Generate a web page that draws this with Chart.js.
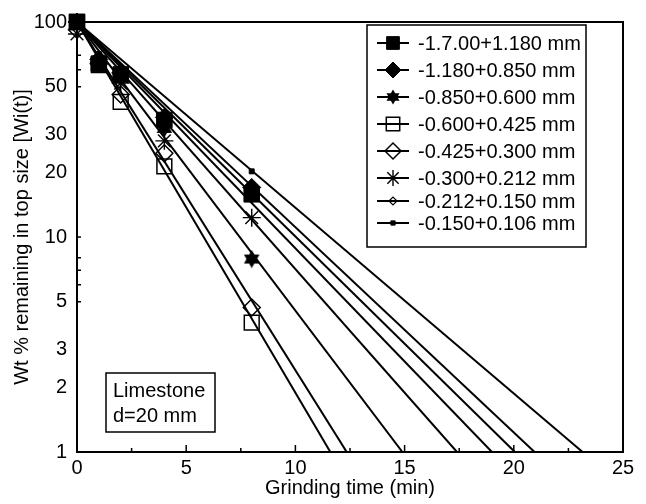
<!DOCTYPE html>
<html>
<head>
<meta charset="utf-8">
<script src="https://cdn.jsdelivr.net/npm/chart.js@4.4.1/dist/chart.umd.min.js"></script>
<style>
  html, body { margin: 0; padding: 0; background: #fff; }
  #wrap { width: 646px; height: 504px; }
</style>
</head>
<body>
<div id="wrap"><canvas id="chart" width="646" height="504"></canvas></div>
<script>
// grinding times (min) where the samples were taken
const times = [0, 1, 2, 4, 8];

const sizeLabels = [
  "-1.7.00+1.180 mm", "-1.180+0.850 mm", "-0.850+0.600 mm", "-0.600+0.425 mm",
  "-0.425+0.300 mm", "-0.300+0.212 mm", "-0.212+0.150 mm", "-0.150+0.106 mm"
];

// Wt % remaining in top size
const wt1700 = [100, 64, 57, 35, 15.8];
const wt1180 = [100, 67, 58, 36, 17.0];
const wt850  = [100, 66, 55, 32, 7.9];
const wt600  = [100, 63, 42.5, 21.3, 4.0];
const wt425  = [92, 64, 46, 24.5, 4.7];
const wt300  = [88, 65, 52, 28, 12.3];
const wt212  = [100, 69, 57, 34, 15.2];
const wt150  = [100, 71, 60, 37, 20.2];

// fitted first-order lines: start at 100 %, reach 1 % at these times
const fitStartValue = 100;
const fitEndValue = 1;
const fitEndTimes = [20.05, 20.95, 14.9, 11.6, 12.35, 17.4, 19.0, 23.15];

const xMajorTicks = [5, 10, 15, 20];
const xMinorTicks = [2.5, 7.5, 12.5, 17.5, 22.5];
const yTickValues = [1, 2, 3, 5, 10, 20, 30, 50, 100];
const yMinorTicks = [5, 6, 7, 8, 10, 50, 60, 70];

const allSeries = [wt1700, wt1180, wt850, wt600, wt425, wt300, wt212, wt150];

const FONT = "'Liberation Sans', Arial, sans-serif";

function makeHexStar(size) {
  const c = document.createElement("canvas");
  c.width = size; c.height = size;
  const g = c.getContext("2d");
  const r = size / 2 - 0.5;
  const cx = size / 2, cy = size / 2;
  g.fillStyle = "#000";
  [-Math.PI / 2, Math.PI / 2].forEach(start => {
    g.beginPath();
    for (let k = 0; k < 3; k++) {
      const a = start + k * 2 * Math.PI / 3;
      const px = cx + r * Math.cos(a), py = cy + r * Math.sin(a);
      if (k === 0) g.moveTo(px, py); else g.lineTo(px, py);
    }
    g.closePath();
    g.fill();
  });
  return c;
}

const hexStarBig = makeHexStar(19);
const hexStarSmall = makeHexStar(16);

const markerStyles = [
  { pointStyle: "rect", radius: 11, fill: "#000", lw: 1 },
  { pointStyle: "rectRot", radius: 9, fill: "#000", lw: 1 },
  { pointStyle: hexStarBig, radius: 9, fill: "#000", lw: 1 },
  { pointStyle: "rect", radius: 10.5, fill: "rgba(0,0,0,0)", lw: 1.5 },
  { pointStyle: "rectRot", radius: 8.5, fill: "rgba(0,0,0,0)", lw: 1.5 },
  { pointStyle: "star", radius: 9, fill: "rgba(0,0,0,0)", lw: 1.4 },
  { pointStyle: "rectRot", radius: 4.5, fill: "rgba(0,0,0,0)", lw: 1.2 },
  { pointStyle: "rect", radius: 3.5, fill: "#000", lw: 1 }
];

const legendMarkerStyles = [
  { pointStyle: "rect", radius: 9, fill: "#000", lw: 1 },
  { pointStyle: "rectRot", radius: 8, fill: "#000", lw: 1 },
  { pointStyle: hexStarSmall, radius: 8, fill: "#000", lw: 1 },
  { pointStyle: "rect", radius: 9.5, fill: "rgba(0,0,0,0)", lw: 1.5 },
  { pointStyle: "rectRot", radius: 8, fill: "rgba(0,0,0,0)", lw: 1.5 },
  { pointStyle: "star", radius: 8, fill: "rgba(0,0,0,0)", lw: 1.4 },
  { pointStyle: "rectRot", radius: 4, fill: "rgba(0,0,0,0)", lw: 1.2 },
  { pointStyle: "rect", radius: 3, fill: "#000", lw: 1 }
];

const markerSets = allSeries.map((vals, i) => ({
  label: sizeLabels[i],
  data: times.map((t, j) => ({ x: t, y: vals[j] })),
  pointStyle: markerStyles[i].pointStyle,
  pointRadius: markerStyles[i].radius,
  pointBackgroundColor: markerStyles[i].fill,
  pointBorderColor: "#000",
  pointBorderWidth: markerStyles[i].lw,
  showLine: false,
  clip: false
}));

const lineSets = fitEndTimes.map((tEnd, i) => ({
  label: sizeLabels[i] + " fit",
  data: [{ x: 0, y: fitStartValue }, { x: tEnd, y: fitEndValue }],
  showLine: true,
  borderColor: "#000",
  borderWidth: 2,
  pointRadius: 0
}));

function drawMarker(ctx, st, x, y) {
  ctx.save();
  ctx.fillStyle = st.fill;
  ctx.strokeStyle = "#000";
  ctx.lineWidth = st.lw;
  Chart.helpers.drawPoint(ctx, { pointStyle: st.pointStyle, radius: st.radius, borderWidth: st.lw, rotation: 0 }, x, y);
  ctx.restore();
}

const framePlugin = {
  id: "frame",
  beforeDatasetsDraw(chart) {
    const { ctx, chartArea: a, scales: { x, y } } = chart;
    ctx.save();
    ctx.strokeStyle = "#000";
    ctx.lineWidth = 2;
    ctx.beginPath();
    ctx.moveTo(a.left, a.top); ctx.lineTo(a.right, a.top); ctx.lineTo(a.right, a.bottom);
    ctx.stroke();
    ctx.lineWidth = 1.5;
    ctx.beginPath();
    xMajorTicks.forEach(v => { const px = x.getPixelForValue(v); ctx.moveTo(px, a.bottom); ctx.lineTo(px, a.bottom - 7); });
    xMinorTicks.forEach(v => { const px = x.getPixelForValue(v); ctx.moveTo(px, a.bottom); ctx.lineTo(px, a.bottom - 4); });
    yMinorTicks.forEach(v => { const py = y.getPixelForValue(v); ctx.moveTo(a.left, py); ctx.lineTo(a.left + 4, py); });
    ctx.stroke();
    ctx.restore();
  },
  afterDraw(chart) {
    const { ctx } = chart;
    ctx.save();
    // legend box
    ctx.fillStyle = "#fff";
    ctx.fillRect(367, 25, 219, 222);
    ctx.strokeStyle = "#000";
    ctx.lineWidth = 1.5;
    ctx.strokeRect(367, 25, 219, 222);
    const rows = [43, 70, 97, 124, 151, 178, 201, 223];
    ctx.font = "20px " + FONT;
    ctx.textBaseline = "middle";
    ctx.textAlign = "left";
    sizeLabels.forEach((lab, i) => {
      const ry = rows[i];
      ctx.strokeStyle = "#000";
      ctx.lineWidth = 2;
      ctx.beginPath(); ctx.moveTo(377, ry); ctx.lineTo(409, ry); ctx.stroke();
      drawMarker(ctx, legendMarkerStyles[i], 393, ry);
      ctx.fillStyle = "#000";
      ctx.fillText(lab, 418, ry + 1);
    });
    // sample note
    ctx.lineWidth = 1.5;
    ctx.strokeRect(106, 373, 109, 59);
    ctx.fillStyle = "#000";
    ctx.fillText("Limestone", 113, 391);
    ctx.fillText("d=20 mm", 113, 416);
    ctx.restore();
  }
};

new Chart(document.getElementById("chart"), {
  type: "scatter",
  data: { datasets: markerSets.concat(lineSets) },
  options: {
    responsive: false,
    animation: false,
    layout: { padding: { top: 17, right: 23, left: 0, bottom: 0 } },
    plugins: { legend: { display: false }, tooltip: { enabled: false } },
    scales: {
      x: {
        type: "linear",
        min: 0, max: 25,
        grid: { display: false, drawTicks: false },
        border: { display: true, color: "#000", width: 2 },
        ticks: { stepSize: 5, color: "#000", padding: 4, font: { size: 20, family: FONT } },
        title: { display: true, text: "Grinding time (min)", color: "#000", font: { size: 20, family: FONT }, padding: { top: 0, bottom: 4 } },
        afterFit: s => { s.height = 52; }
      },
      y: {
        type: "logarithmic",
        min: 1, max: 100,
        grid: { display: false, drawTicks: false },
        border: { display: true, color: "#000", width: 2 },
        afterBuildTicks: s => { s.ticks = yTickValues.map(v => ({ value: v })); },
        ticks: { color: "#000", padding: 10, font: { size: 20, family: FONT }, callback: v => String(v) },
        title: { display: true, text: "Wt % remaining in top size [Wi(t)]", color: "#000", font: { size: 20, family: FONT }, padding: { top: 10, bottom: 0 } },
        afterFit: s => { s.width = 77; }
      }
    }
  },
  plugins: [framePlugin]
});
</script>
</body>
</html>
